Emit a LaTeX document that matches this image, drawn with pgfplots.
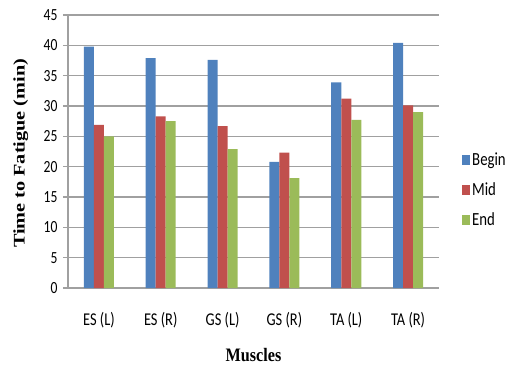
\documentclass[border=0pt]{standalone}
\usepackage{fontspec}
\setmainfont[FakeStretch=0.8]{Carlito}
\newfontfamily\timesH[FakeStretch=0.85]{Liberation Serif}
\newfontfamily\timesV[FakeStretch=1.25]{Liberation Serif}
\usepackage{pgfplots}
\pgfplotsset{compat=1.18}
\definecolor{cblue}{HTML}{4F81BD}
\definecolor{cred}{HTML}{C0504D}
\definecolor{cgreen}{HTML}{9BBB59}
\definecolor{cgrid}{HTML}{A0A0A0}
\begin{document}
\begin{tikzpicture}
\path[use as bounding box] (-68pt,-79pt) rectangle (444pt,288pt);
\begin{axis}[
  at={(0pt,0pt)}, anchor=south west,
  scale only axis, width=371pt, height=273pt,
  ymin=0, ymax=45, ytick={0,5,...,45},
  xmin=-0.5, xmax=5.5, xtick={0,1,2,3,4,5},
  xticklabels={ES (L), ES (R), GS (L), GS (R), TA (L), TA (R)},
  ybar=0pt, bar width=10pt,
  axis lines*=left,
  axis line style={-, draw=cgrid, line width=1.2pt},
  ymajorgrids, grid style={draw=cgrid, line width=1.2pt},
  tick align=outside, major tick length=5pt,
  xtick style={draw=none},
  ytick style={draw=cgrid, line width=1.2pt},
  /pgf/number format/assume math mode=true,
  yticklabel style={font=\fontsize{17}{20}\selectfont, anchor=east, xshift=-2pt},
  xticklabel style={font=\fontsize{18}{21}\selectfont, anchor=center, yshift=-27pt},
  xlabel={Muscles},
  xlabel style={font=\timesH\bfseries\fontsize{19}{22}\selectfont, at={(axis description cs:0.5,-0.245)}, anchor=center},
  ylabel={Time to Fatigue (min)},
  ylabel style={font=\timesV\bfseries\fontsize{16.2}{19}\selectfont, at={(axis description cs:-0.127,0.493)}, anchor=center},
  legend style={at={(axis description cs:1.062,0.359)}, anchor=west, draw=none, fill=none,
    font=\fontsize{18.5}{21}\selectfont, inner sep=0pt, row sep=12pt,
    /tikz/every even column/.append style={column sep=0pt}},
  legend cell align=left,
]
\addplot[fill=cblue, draw=none, legend image code/.code={\fill[cblue] (0pt,-5pt) rectangle (8pt,5pt);}] coordinates {(0,39.8) (1,37.9) (2,37.6) (3,20.8) (4,33.9) (5,40.4)};
\addplot[fill=cred, draw=none, legend image code/.code={\fill[cred] (0pt,-5pt) rectangle (8pt,5pt);}] coordinates {(0,26.9) (1,28.3) (2,26.7) (3,22.3) (4,31.2) (5,30.1)};
\addplot[fill=cgreen, draw=none, legend image code/.code={\fill[cgreen] (0pt,-5pt) rectangle (8pt,5pt);}] coordinates {(0,25.0) (1,27.5) (2,22.9) (3,18.1) (4,27.7) (5,29.0)};
\legend{Begin, Mid, End}
\end{axis}
\end{tikzpicture}
\end{document}
